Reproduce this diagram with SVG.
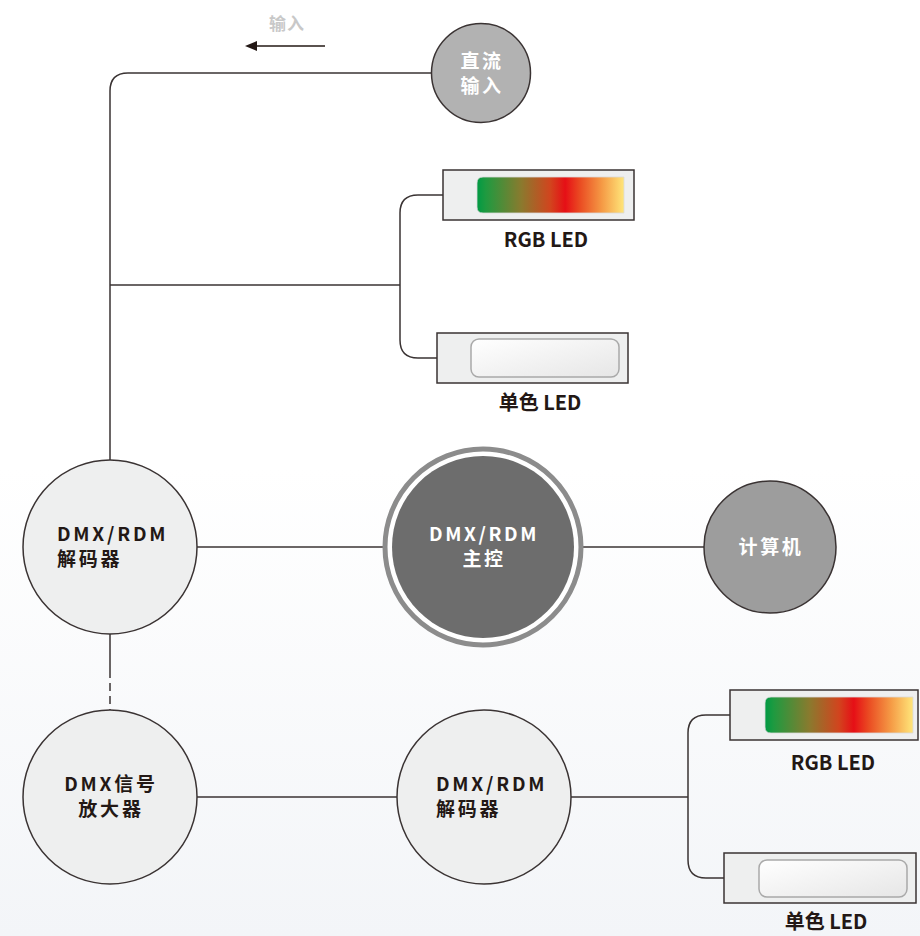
<svg xmlns="http://www.w3.org/2000/svg" width="920" height="936" viewBox="0 0 920 936">
<defs>
<linearGradient id="bg" x1="0" y1="0" x2="0" y2="1">
<stop offset="0" stop-color="#ffffff"/>
<stop offset="0.5" stop-color="#ffffff"/>
<stop offset="1" stop-color="#f3f5f8"/>
</linearGradient>
<linearGradient id="rgb" x1="0" y1="0" x2="1" y2="0">
<stop offset="0" stop-color="#009a44"/>
<stop offset="0.06" stop-color="#1f9a40"/>
<stop offset="0.3" stop-color="#8a7a2e"/>
<stop offset="0.5" stop-color="#d2441e"/>
<stop offset="0.6" stop-color="#e60f16"/>
<stop offset="0.7" stop-color="#ea4b22"/>
<stop offset="0.85" stop-color="#f59a45"/>
<stop offset="1" stop-color="#ffe67a"/>
</linearGradient>
<linearGradient id="mono" x1="0" y1="0" x2="1" y2="1">
<stop offset="0" stop-color="#ffffff"/>
<stop offset="1" stop-color="#e6e6e6"/>
</linearGradient>
<marker id="arr" viewBox="0 0 12 10" refX="0" refY="5" markerWidth="12" markerHeight="10" markerUnits="userSpaceOnUse" orient="auto">
<path d="M0,0 L12,5 L0,10 Z" fill="#231815"/>
</marker>
<style>
.ln{fill:none;stroke:#3a3333;stroke-width:1.5}
.circ{stroke:#3a3333;stroke-width:1.5}
.box{fill:#eeefef;stroke:#3a3333;stroke-width:1.5}
.monoin{fill:url(#mono);stroke:#a9a9a9;stroke-width:1.5}
.t{font-family:"Noto Sans CJK SC","Noto Sans",sans-serif;font-weight:700}
.dk{fill:#231815;font-size:19px;letter-spacing:2.8px}
.wt{fill:#ffffff;font-size:19px;letter-spacing:2.6px}
.lbl{fill:#231815;font-size:20px;text-anchor:middle}
</style>
</defs>
<rect width="920" height="936" fill="url(#bg)"/>

<g id="connectors">
<path class="ln" d="M432,73 H128 Q110,73 110,91 V460"/>
<path class="ln" d="M110,285 H400"/>
<path class="ln" d="M443,195 H418 Q400,195 400,213 V340 Q400,358 418,358 H437"/>
<path class="ln" d="M197,547 H385"/>
<path class="ln" d="M580,547 H705"/>
<path class="ln" d="M110,634 V678"/>
<path class="ln" d="M110,683 V710" stroke-dasharray="8,5"/>
<path class="ln" d="M197,797 H397"/>
<path class="ln" d="M571,797 H688"/>
<path class="ln" d="M730,715 H706 Q688,715 688,733 V860 Q688,878 706,878 H724"/>
<path d="M325,46 H257" stroke="#231815" stroke-width="1.5" fill="none" marker-end="url(#arr)"/>
</g>

<g id="input-label">
<text class="t" x="287" y="30" fill="#c8c8c8" font-size="17" text-anchor="middle" letter-spacing="1">输入</text>
</g>

<g id="dc-input">
<circle class="circ" cx="481" cy="73" r="49.5" fill="#b2b2b2"/>
<text class="t wt" x="482" y="68" text-anchor="middle" font-size="18">直流</text>
<text class="t wt" x="482" y="93" text-anchor="middle" font-size="18">输入</text>
</g>

<g id="rgb-led-1">
<rect class="box" x="443" y="170" width="191" height="50"/>
<path d="M483,177 H624 V213 H483 Q477,213 477,207 V183 Q477,177 483,177 Z" fill="url(#rgb)" stroke="#d9d9d9" stroke-width="0.8"/>
<text class="t lbl" x="546" y="247">RGB LED</text>
</g>

<g id="mono-led-1">
<rect class="box" x="437" y="333" width="191" height="50"/>
<rect class="monoin" x="471" y="339" width="148" height="38" rx="8"/>
<text class="t lbl" x="540" y="410">单色 LED</text>
</g>

<g id="decoder-1">
<circle class="circ" cx="110" cy="547" r="87" fill="#eeefef"/>
<text class="t dk" x="57" y="541">DMX/RDM</text>
<text class="t dk" x="57" y="566">解码器</text>
</g>

<g id="master">
<circle cx="483" cy="547" r="98" fill="#ffffff" stroke="#8c8c8c" stroke-width="5"/>
<circle cx="483" cy="547" r="91" fill="#6d6d6d"/>
<text class="t wt" x="484" y="541" text-anchor="middle">DMX/RDM</text>
<text class="t wt" x="484" y="566" text-anchor="middle">主控</text>
</g>

<g id="computer">
<circle class="circ" cx="770" cy="547" r="66" fill="#9d9d9d"/>
<text class="t wt" x="771" y="554" text-anchor="middle">计算机</text>
</g>

<g id="amplifier">
<circle class="circ" cx="110" cy="797" r="87" fill="#eeefef"/>
<text class="t dk" x="111" y="791" text-anchor="middle">DMX信号</text>
<text class="t dk" x="111" y="816" text-anchor="middle">放大器</text>
</g>

<g id="decoder-2">
<circle class="circ" cx="484" cy="797" r="87" fill="#eeefef"/>
<text class="t dk" x="436" y="791">DMX/RDM</text>
<text class="t dk" x="436" y="816">解码器</text>
</g>

<g id="rgb-led-2">
<rect class="box" x="730" y="690" width="188" height="50"/>
<path d="M771,697 H913 V733 H771 Q765,733 765,727 V703 Q765,697 771,697 Z" fill="url(#rgb)" stroke="#d9d9d9" stroke-width="0.8"/>
<text class="t lbl" x="833" y="770">RGB LED</text>
</g>

<g id="mono-led-2">
<rect class="box" x="724" y="853" width="192" height="50"/>
<rect class="monoin" x="759" y="860" width="148" height="37" rx="8"/>
<text class="t lbl" x="826" y="929">单色 LED</text>
</g>
</svg>
